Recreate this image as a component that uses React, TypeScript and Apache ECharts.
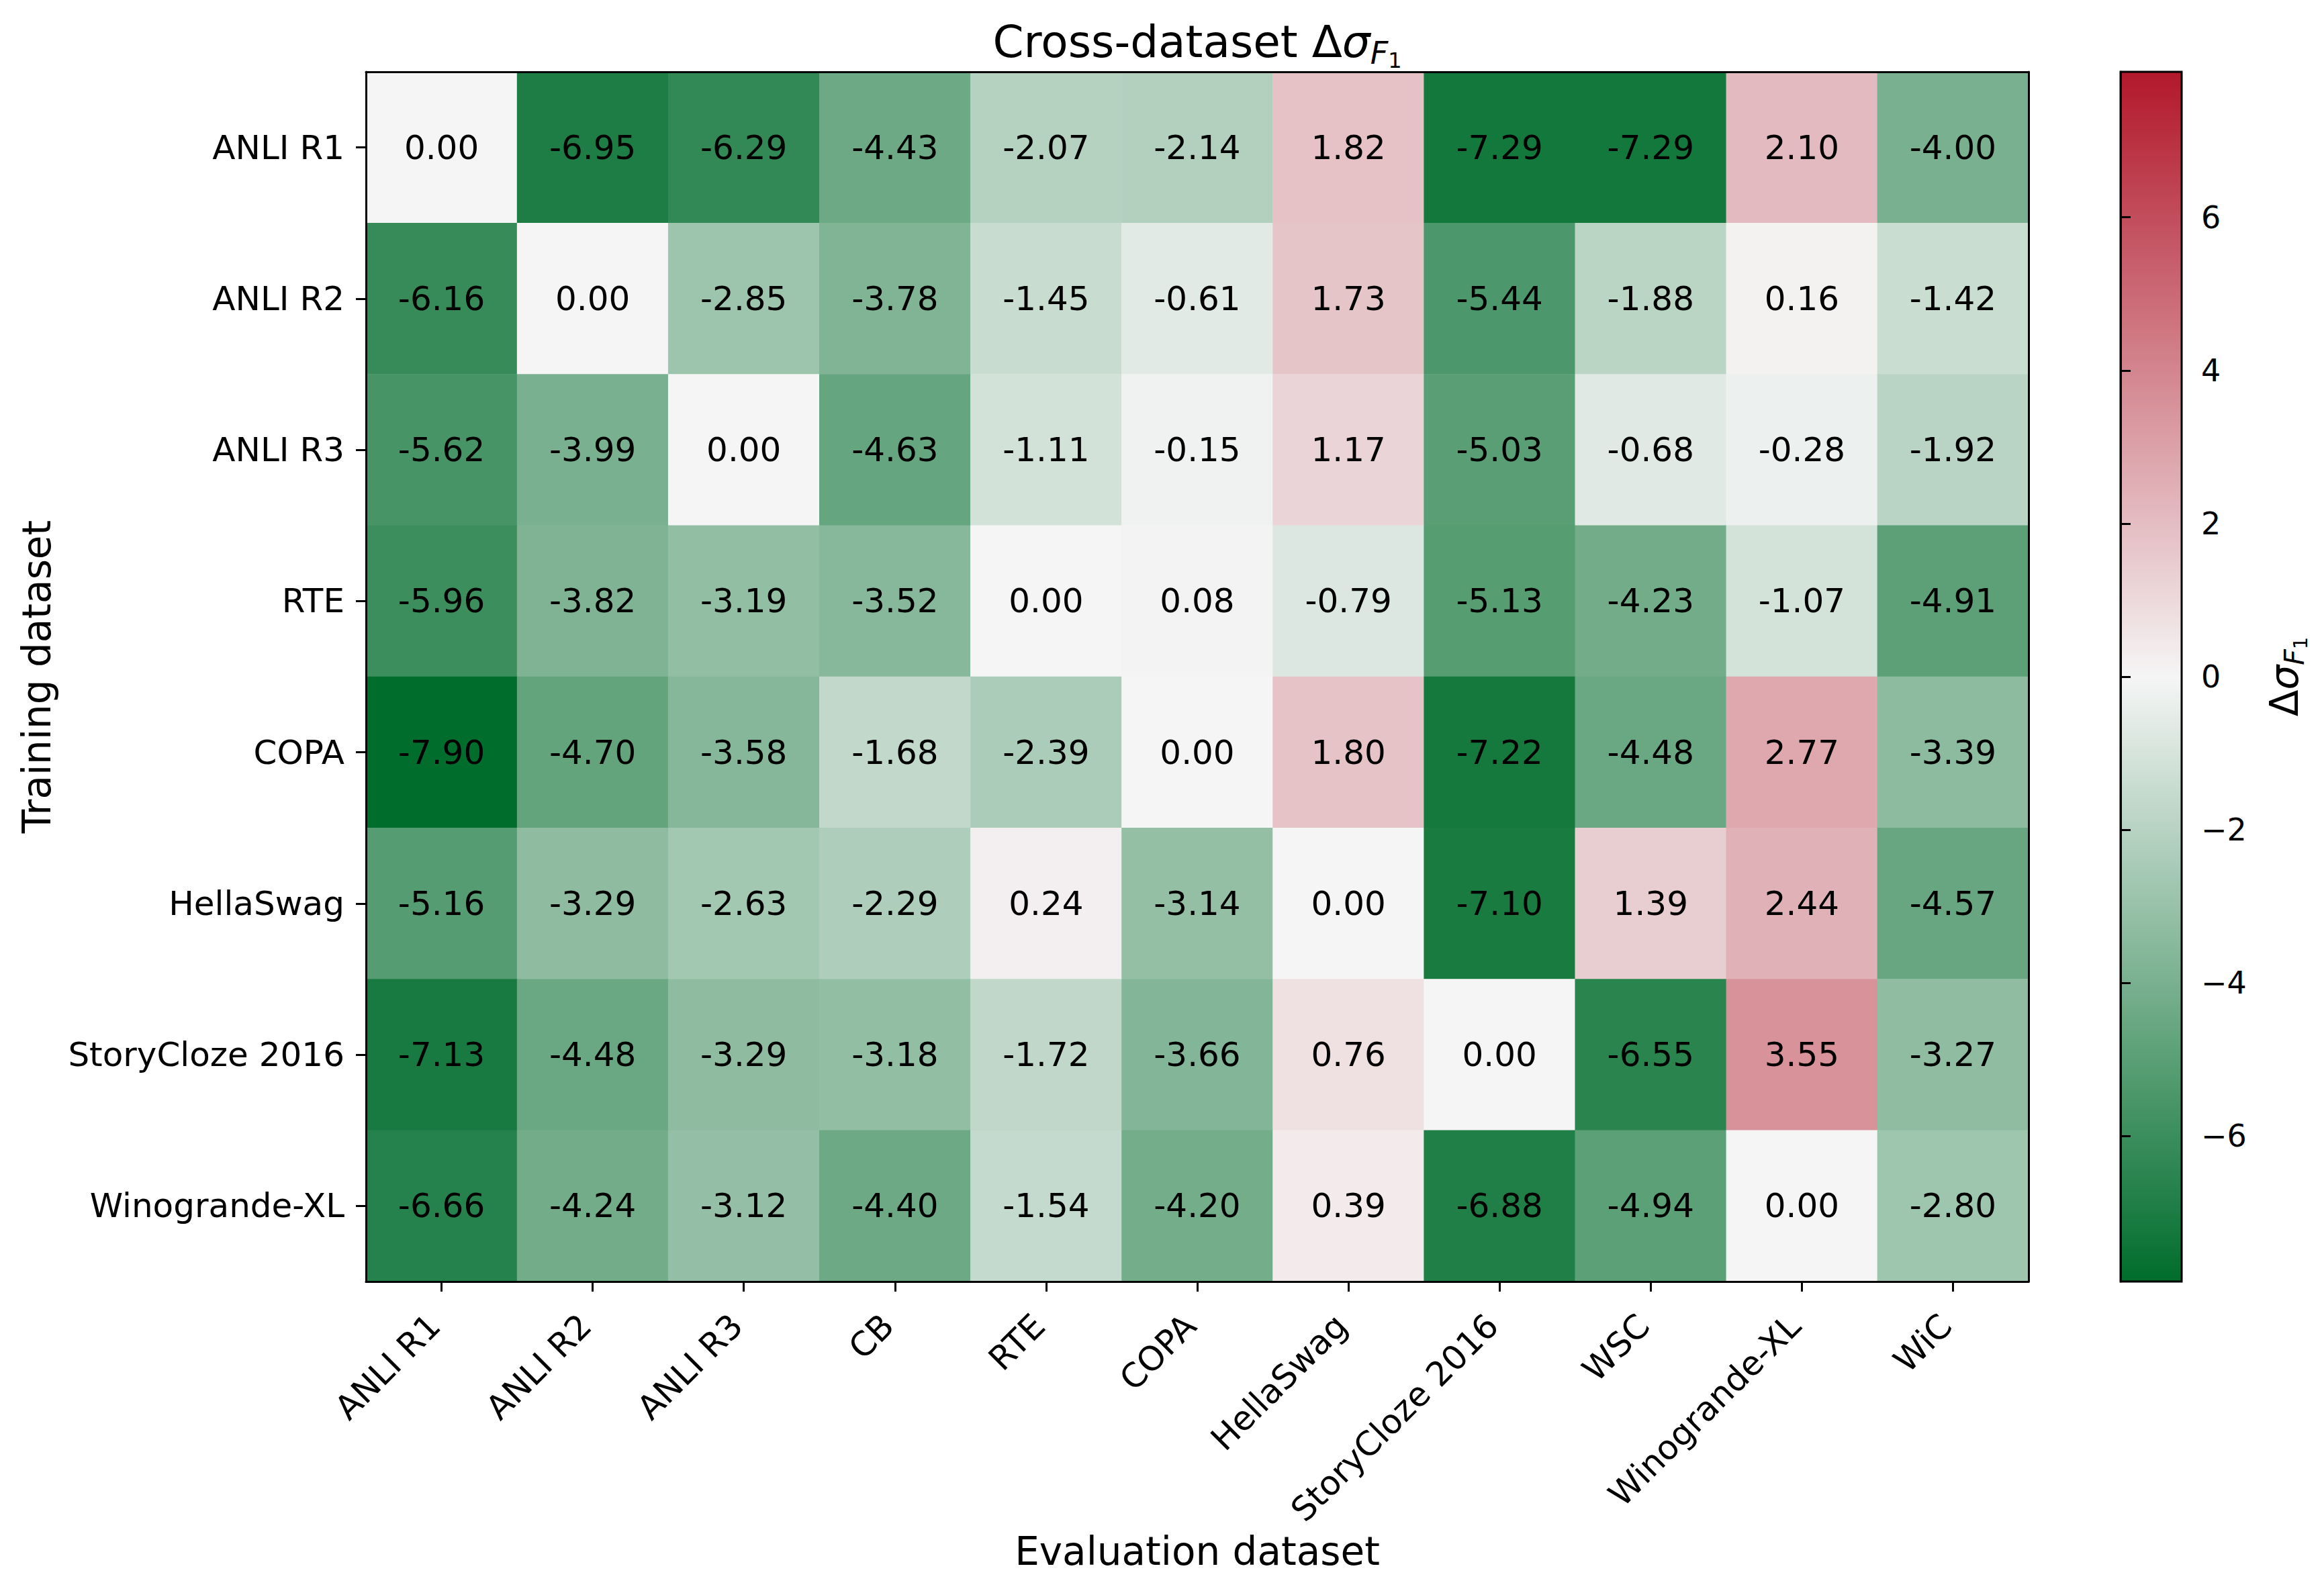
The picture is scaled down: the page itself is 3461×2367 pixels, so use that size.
import React, { useEffect, useRef } from "react";
import * as echarts from "echarts";

const EVAL_LABELS = ["ANLI R1", "ANLI R2", "ANLI R3", "CB", "RTE", "COPA", "HellaSwag", "StoryCloze 2016", "WSC", "Winogrande-XL", "WiC"];
const TRAIN_LABELS = ["ANLI R1", "ANLI R2", "ANLI R3", "RTE", "COPA", "HellaSwag", "StoryCloze 2016", "Winogrande-XL"];

const ROW_ANLI_R1 = [0.0, -6.95, -6.29, -4.43, -2.07, -2.14, 1.82, -7.29, -7.29, 2.1, -4.0];
const ROW_ANLI_R2 = [-6.16, 0.0, -2.85, -3.78, -1.45, -0.61, 1.73, -5.44, -1.88, 0.16, -1.42];
const ROW_ANLI_R3 = [-5.62, -3.99, 0.0, -4.63, -1.11, -0.15, 1.17, -5.03, -0.68, -0.28, -1.92];
const ROW_RTE = [-5.96, -3.82, -3.19, -3.52, 0.0, 0.08, -0.79, -5.13, -4.23, -1.07, -4.91];
const ROW_COPA = [-7.9, -4.7, -3.58, -1.68, -2.39, 0.0, 1.8, -7.22, -4.48, 2.77, -3.39];
const ROW_HELLASWAG = [-5.16, -3.29, -2.63, -2.29, 0.24, -3.14, 0.0, -7.1, 1.39, 2.44, -4.57];
const ROW_STORYCLOZE = [-7.13, -4.48, -3.29, -3.18, -1.72, -3.66, 0.76, 0.0, -6.55, 3.55, -3.27];
const ROW_WINOGRANDE = [-6.66, -4.24, -3.12, -4.4, -1.54, -4.2, 0.39, -6.88, -4.94, 0.0, -2.8];

const ROWS = [ROW_ANLI_R1, ROW_ANLI_R2, ROW_ANLI_R3, ROW_RTE, ROW_COPA, ROW_HELLASWAG, ROW_STORYCLOZE, ROW_WINOGRANDE];

const V_MIN = -7.9;
const V_MAX = 7.9;
const CBAR_TICKS = [-6, -4, -2, 0, 2, 4, 6];

const C_LOW = "#006d2c";
const C_MID = "#f5f5f5";
const C_HIGH = "#b2182b";

const FONT = "DejaVu Sans";

export default function App() {
  const ref = useRef<HTMLDivElement>(null);

  useEffect(() => {
    document.body.style.margin = "0";
    document.body.style.overflow = "hidden";
    const chart = echarts.init(ref.current!, null, { renderer: "svg" });

    const data: number[][] = [];
    ROWS.forEach((row, r) => row.forEach((v, c) => data.push([c, r, v])));

    const lineStyle = { color: "#000", width: 3 };

    const option: any = {
      animation: false,
      backgroundColor: "#ffffff",
      textStyle: { fontFamily: FONT, color: "#000" },
      graphic: [
        {
          type: "text",
          x: 1783,
          y: 62,
          style: {
            text: "{n|Cross-dataset Δ}{s|σ}{f|F}{o|1}",
            align: "center",
            verticalAlign: "middle",
            rich: {
              n: { fontSize: 66, fontFamily: FONT, color: "#000" },
              s: { fontSize: 66, fontFamily: FONT, fontStyle: "italic", color: "#000" },
              f: { fontSize: 46, fontFamily: FONT, fontStyle: "italic", color: "#000", padding: [34, 0, 0, 0] },
              o: { fontSize: 32, fontFamily: FONT, color: "#000", padding: [55, 0, 0, 0] },
            },
          },
        },
      ],
      grid: [
        { left: 545, top: 107, width: 2476, height: 1802 },
        { left: 3158, top: 107, width: 91, height: 1802 },
      ],
      xAxis: [
        {
          type: "category",
          gridIndex: 0,
          data: EVAL_LABELS,
          position: "bottom",
          z: 10,
          axisLine: { show: true, lineStyle },
          axisTick: { show: true, alignWithLabel: true, length: 15, lineStyle },
          axisLabel: {
            rotate: 45,
            interval: 0,
            fontSize: 50,
            color: "#000",
            fontFamily: FONT,
            margin: 47,
            padding: [0, 15, 31, 0],
          },
          splitLine: { show: false },
          name: "Evaluation dataset",
          nameLocation: "middle",
          nameGap: 369,
          nameTextStyle: { fontSize: 58, color: "#000", fontFamily: FONT },
        },
        {
          type: "category",
          gridIndex: 0,
          data: EVAL_LABELS,
          position: "top",
          z: 10,
          axisLine: { show: true, lineStyle },
          axisTick: { show: false },
          axisLabel: { show: false },
          splitLine: { show: false },
        },
        { type: "value", gridIndex: 1, min: 0, max: 1, show: false },
      ],
      yAxis: [
        {
          type: "category",
          gridIndex: 0,
          data: TRAIN_LABELS,
          inverse: true,
          position: "left",
          z: 10,
          axisLine: { show: true, lineStyle },
          axisTick: { show: true, alignWithLabel: true, length: 15, lineStyle },
          axisLabel: { interval: 0, fontSize: 50, color: "#000", fontFamily: FONT, margin: 32 },
          splitLine: { show: false },
          name: "Training dataset",
          nameLocation: "middle",
          nameGap: 461,
          nameTextStyle: { fontSize: 58, color: "#000", fontFamily: FONT },
        },
        {
          type: "category",
          gridIndex: 0,
          data: TRAIN_LABELS,
          inverse: true,
          position: "right",
          z: 10,
          axisLine: { show: true, lineStyle },
          axisTick: { show: false },
          axisLabel: { show: false },
          splitLine: { show: false },
        },
        {
          type: "value",
          gridIndex: 1,
          min: V_MIN,
          max: V_MAX,
          position: "right",
          z: 10,
          axisLine: { show: true, lineStyle },
          axisTick: { show: true, length: 15, lineStyle, customValues: CBAR_TICKS },
          axisLabel: {
            fontSize: 46,
            color: "#000",
            fontFamily: FONT,
            margin: 29,
            customValues: CBAR_TICKS,
            formatter: (v: number) => String(v).replace("-", "\u2212"),
          },
          splitLine: { show: false },
          name: "{n|Δ}{s|σ}{f|F}{o|1}",
          nameLocation: "middle",
          nameGap: 114,
          nameTextStyle: {
            fontSize: 58,
            color: "#000",
            fontFamily: FONT,
            rich: {
              n: { fontSize: 58, fontFamily: FONT, color: "#000" },
              s: { fontSize: 58, fontFamily: FONT, fontStyle: "italic", color: "#000" },
              f: { fontSize: 41, fontFamily: FONT, fontStyle: "italic", color: "#000", padding: [30, 0, 0, 0] },
              o: { fontSize: 29, fontFamily: FONT, color: "#000", padding: [48, 0, 0, 0] },
            },
          },
        },
      ],
      visualMap: {
        type: "continuous",
        show: false,
        min: V_MIN,
        max: V_MAX,
        seriesIndex: 0,
        dimension: 2,
        inRange: { color: [C_LOW, C_MID, C_HIGH] },
      },
      series: [
        {
          type: "heatmap",
          xAxisIndex: 0,
          yAxisIndex: 0,
          data,
          label: {
            show: true,
            fontSize: 50,
            color: "#000",
            fontFamily: FONT,
            formatter: (p: any) => p.value[2].toFixed(2),
          },
          emphasis: { disabled: true },
          itemStyle: { borderWidth: 0 },
        },
        {
          type: "custom",
          xAxisIndex: 2,
          yAxisIndex: 2,
          clip: false,
          z: 5,
          data: [[V_MIN, V_MAX]],
          renderItem: (params: any, api: any) => {
            const tl = api.coord([0, api.value(1)]);
            const br = api.coord([1, api.value(0)]);
            return {
              type: "rect",
              shape: { x: tl[0], y: tl[1], width: br[0] - tl[0], height: br[1] - tl[1] },
              style: {
                fill: new echarts.graphic.LinearGradient(0, 0, 0, 1, [
                  { offset: 0, color: C_HIGH },
                  { offset: 0.5, color: C_MID },
                  { offset: 1, color: C_LOW },
                ]),
                stroke: "#000",
                lineWidth: 3,
              },
            };
          },
        },
      ],
    };

    chart.setOption(option);
    return () => chart.dispose();
  }, []);

  return (
    <div
      ref={ref}
      style={{ position: "absolute", left: 0, top: 0, width: 3461, height: 2367, background: "#fff" }}
    />
  );
}
